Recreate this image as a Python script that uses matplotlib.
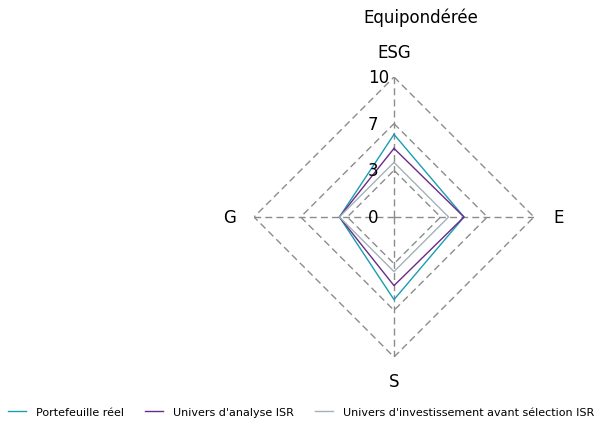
import numpy as np
import matplotlib
matplotlib.use("Agg")
import matplotlib.pyplot as plt
from matplotlib.lines import Line2D

# data
axes_labels = ["ESG", "E", "S", "G"]
portefeuille = [5.9, 5.0, 5.9, 3.9]
univers_analyse = [4.9, 5.0, 4.9, 3.9]
univers_invest = [3.9, 3.9, 3.9, 3.9]
series_names = ["Portefeuille réel", "Univers d'analyse ISR",
                "Univers d'investissement avant sélection ISR"]
series_colors = ["#1c9db0", "#6a2a88", "#a3b2ba"]
ring_values = [0, 10 / 3, 20 / 3, 10]
ring_labels = ["0", "3", "7", "10"]
title = "Equipondérée"


def plot_data():
    fig = plt.figure(figsize=(5.98, 4.27), dpi=100)
    W, H = 598, 427
    cx, cy, rad = 394, 218, 140
    ax = fig.add_axes([(cx - rad) / W, (H - cy - rad) / H,
                       2 * rad / W, 2 * rad / H], projection="polar")
    ax.set_theta_offset(np.pi / 2)
    ax.set_theta_direction(-1)
    ax.set_ylim(0, 10)
    ax.grid(False)
    ax.spines["polar"].set_visible(False)
    ax.set_xticks([])
    ax.set_yticks([])
    ax.patch.set_alpha(0)

    n = len(axes_labels)
    theta = np.arange(n) * 2 * np.pi / n
    theta_c = np.append(theta, theta[0])

    grid_kw = dict(color="#8c8c8c", lw=1.0, ls=(0, (5, 3)), zorder=1)
    for r in ring_values[1:]:
        ax.plot(theta_c, [r] * (n + 1), **grid_kw)
    for t in theta:
        ax.plot([t, t], [0, 10], **grid_kw)

    for vals, color in zip([portefeuille, univers_analyse, univers_invest],
                           series_colors):
        ax.plot(theta_c, vals + vals[:1], color=color, lw=1.0, zorder=3)

    for r, lab in zip(ring_values, ring_labels):
        ax.annotate(lab, xy=(0, r), xytext=(-18.7, 0),
                    textcoords="offset points", ha="left", va="center",
                    fontsize=12, color="black", zorder=4)

    for t, lab in zip(theta, axes_labels):
        ax.text(t, 11.75, lab, ha="center", va="center", fontsize=12,
                clip_on=False)

    fig.text(421 / W, 1 - 18 / H, title, ha="center", va="center",
             fontsize=12)

    handles = [Line2D([], [], color=c, lw=1.0) for c in series_colors]
    fig.legend(handles, series_names, loc="center",
               bbox_to_anchor=(301 / W, 1 - 413 / H), ncol=3, frameon=False,
               fontsize=8, handlelength=1.6, handletextpad=0.9,
               columnspacing=1.9, borderpad=0.1)

    fig.savefig("out.png", dpi=100)


def main():
    plot_data()


if __name__ == '__main__':
    main()
